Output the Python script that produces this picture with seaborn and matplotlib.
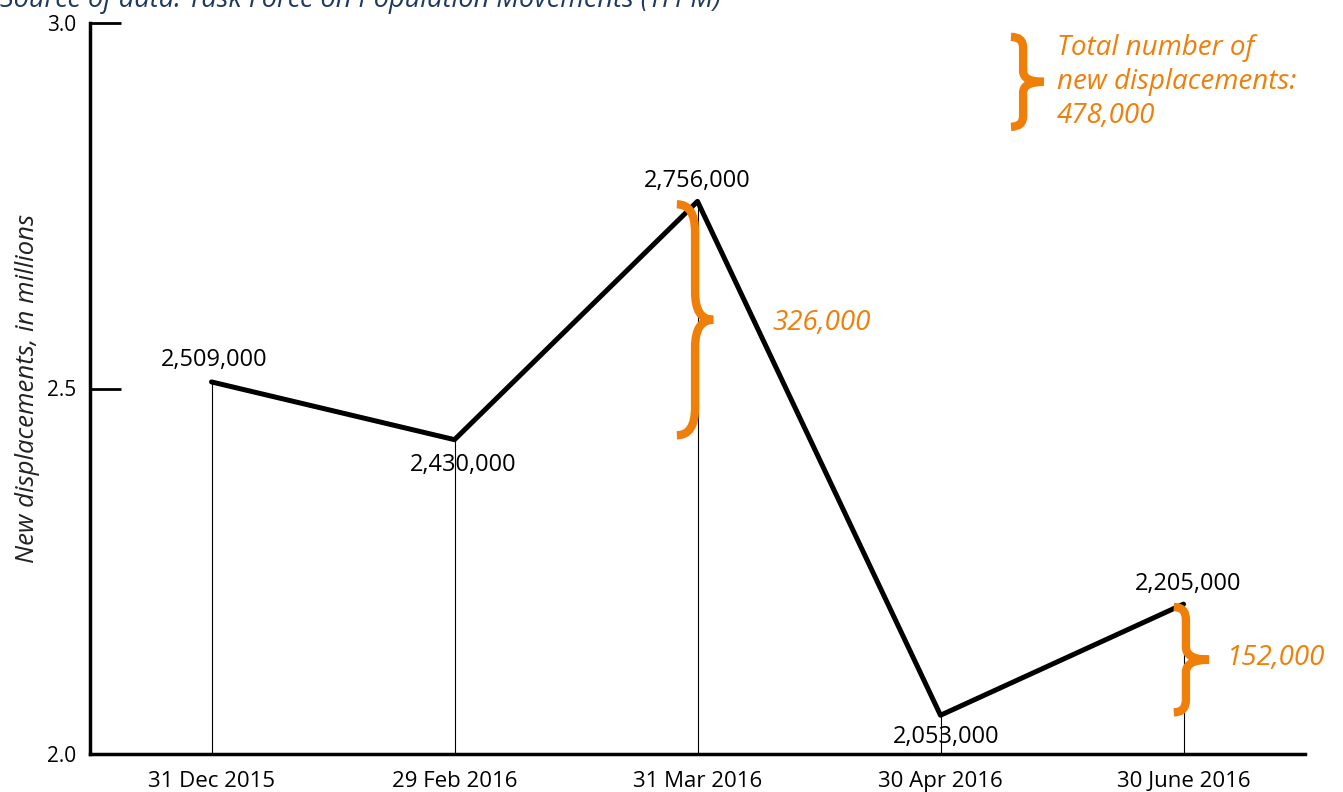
import matplotlib
matplotlib.use("Agg")
import matplotlib.pyplot as plt
import seaborn as sns
import pandas as pd
from matplotlib.path import Path
from matplotlib.patches import PathPatch

dates = ["31 Dec 2015", "29 Feb 2016", "31 Mar 2016", "30 Apr 2016", "30 June 2016"]
values = [2509000, 2430000, 2756000, 2053000, 2205000]
value_labels = ["2,509,000", "2,430,000", "2,756,000", "2,053,000", "2,205,000"]
y_ticks = [2.0, 2.5, 3.0]
increase_labels = ["326,000", "152,000"]
total_label = "Total number of\nnew displacements:\n478,000"

ORANGE = "#F07F0A"
FONT = "Open Sans"

sns.set_theme(style="white")
plt.rcParams["font.family"] = [FONT, "DejaVu Sans"]

df = pd.DataFrame({"date": dates, "millions": [v / 1e6 for v in values]})

fig = plt.figure(figsize=(13.43, 7.92), dpi=100)
ax = fig.add_axes([90 / 1343, 1 - 754 / 792, (1305 - 90) / 1343, (754 - 23) / 792])

sns.lineplot(data=df, x="date", y="millions", sort=False, color="black",
             linewidth=3.6, ax=ax)
xs = list(range(len(dates)))
ax.vlines(xs, 2.0, df["millions"], color="black", linewidth=0.8, zorder=1)

ax.set_xlim(-0.5, 4.5)
ax.set_ylim(2.0, 3.0)
ax.set_yticks(y_ticks)
ax.set_yticklabels([f"{t:.1f}" for t in y_ticks])
ax.set_xticks(xs)
ax.set_xticklabels(dates)
ax.set_xlabel("")
ax.set_ylabel("New displacements, in millions", fontsize=18.5, style="italic",
              color="#222222")
ax.yaxis.set_label_coords(-0.041, 0.5)

for s in ["top", "right"]:
    ax.spines[s].set_visible(False)
for s in ["left", "bottom"]:
    ax.spines[s].set_linewidth(2.5)
    ax.spines[s].set_color("black")
ax.tick_params(axis="y", direction="in", length=22, width=2, pad=10,
               labelsize=15, colors="black", left=True)
ax.tick_params(axis="x", length=0, pad=12, labelsize=16, colors="black")
ax.grid(False)

# value labels
offsets = [(2, 16), (6, -18), (0, 15), (4, -16), (3, 14.5)]
for i, (v, lab) in enumerate(zip(df["millions"], value_labels)):
    dx, dy = offsets[i]
    ax.annotate(lab, (i, v), xytext=(dx, dy), textcoords="offset points",
                ha="center", va="center", fontsize=17, color="black")


def brace(ax, x, y0, y1, w, a, lw=6):
    ym = (y0 + y1) / 2
    r = (y1 - y0) * 0.12
    verts = [(x - a, y0), (x, y0), (x, y0 + r), (x, ym - r), (x, ym), (x + w, ym),
             (x, ym), (x, ym + r), (x, y1 - r), (x, y1), (x - a, y1)]
    codes = [Path.MOVETO, Path.CURVE3, Path.CURVE3, Path.LINETO, Path.CURVE3, Path.CURVE3,
             Path.CURVE3, Path.CURVE3, Path.LINETO, Path.CURVE3, Path.CURVE3]
    ax.add_patch(PathPatch(Path(verts, codes), facecolor="none", edgecolor=ORANGE,
                           linewidth=lw, capstyle="butt", zorder=3, clip_on=False))


brace(ax, 1.99, values[1] / 1e6 + 0.006, values[2] / 1e6 - 0.004, 0.075, 0.075)
brace(ax, 4.01, values[3] / 1e6 + 0.004, values[4] / 1e6 - 0.004, 0.095, 0.05)
brace(ax, 3.34, 2.858, 2.981, 0.085, 0.05)

ax.text(2.31, 2.59, increase_labels[0], fontsize=20, style="italic", color=ORANGE,
        ha="left", va="center")
ax.text(4.18, 2.131, increase_labels[1], fontsize=20, style="italic", color=ORANGE,
        ha="left", va="center")
ax.text(3.48, 2.985, total_label, fontsize=20, style="italic", color=ORANGE,
        ha="left", va="top", linespacing=1.28)

fig.text(0.0, 1.0, "Source of data: Task Force on Population Movements (TFPM)",
         fontsize=19.5, style="italic", color="#1F3A5F", ha="left", va="center")

fig.savefig("out.png", dpi=100)
